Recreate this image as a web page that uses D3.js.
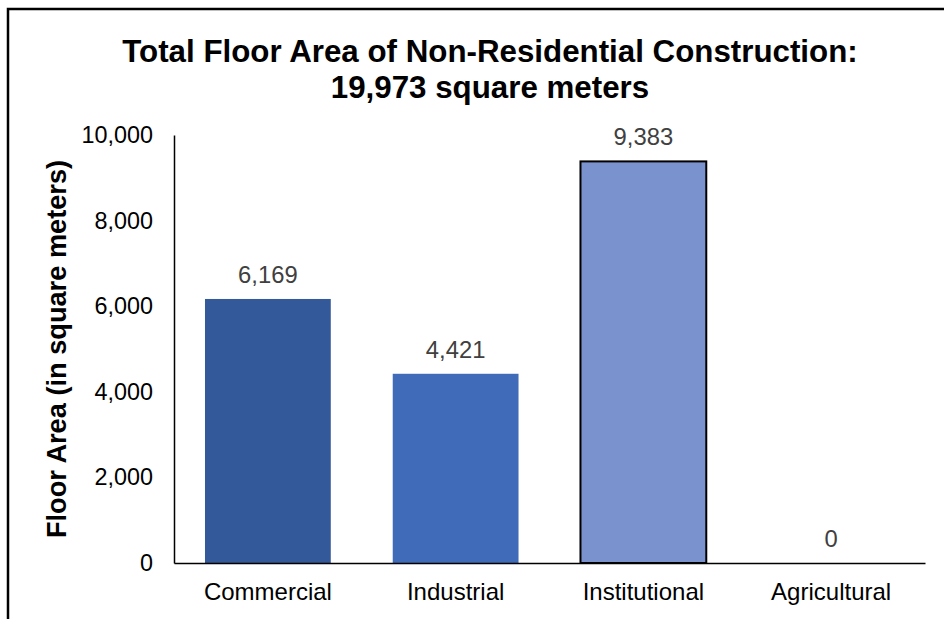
<!DOCTYPE html>
<html><head><meta charset="utf-8">
<script src="https://cdn.jsdelivr.net/npm/d3@7"></script>
<style>body{margin:0;background:#fff}svg{display:block}</style>
</head><body>
<svg id="c" width="944" height="619"></svg>
<script>
const categories = ["Commercial","Industrial","Institutional","Agricultural"];
const values = [6169, 4421, 9383, 0];
const barColors = ["#33599a","#3f6bb8","#7a93cf","#a9b9e0"];
const barStrokes = ["none","none","#000","none"];
const yTicks = [0,2000,4000,6000,8000,10000];
const titleLines = ["Total Floor Area of Non-Residential Construction:","19,973 square meters"];
const yTitle = "Floor Area (in square meters)";

const svg = d3.select("#c");
const font = "'Liberation Sans', Arial, sans-serif";
const m = {left:174, right:925, top:135, bottom:563};

// outer border
svg.append("rect").attr("x",8).attr("y",9).attr("width",1000).attr("height",1000)
  .attr("fill","none").attr("stroke","#000").attr("stroke-width",2.5);

const x = d3.scaleBand().domain(categories).range([m.left, m.right]).paddingInner(0.33).paddingOuter(0.165);
const y = d3.scaleLinear().domain([0,10000]).range([m.bottom, m.top]);

// title
svg.append("text").attr("x",490).attr("y",62).attr("text-anchor","middle")
  .attr("font-family",font).attr("font-weight","bold").attr("font-size",31.3).attr("fill","#000")
  .selectAll("tspan").data(titleLines).join("tspan")
  .attr("x",490).attr("dy",(d,i)=>i?36:0).text(d=>d);

// bars
svg.append("g").selectAll("rect").data(values).join("rect")
  .attr("x",(d,i)=>x(categories[i])).attr("width",x.bandwidth())
  .attr("y",d=>y(d)).attr("height",d=>y(0)-y(d))
  .attr("fill",(d,i)=>barColors[i])
  .attr("stroke",(d,i)=>barStrokes[i]).attr("stroke-width",2);

// data labels
svg.append("g").selectAll("text").data(values).join("text")
  .attr("x",(d,i)=>x(categories[i])+x.bandwidth()/2)
  .attr("y",d=>y(d)-16).attr("text-anchor","middle")
  .attr("font-family",font).attr("font-size",23.8).attr("fill","#404040")
  .text(d=>d3.format(",")(d));

// y axis
const yAxis = d3.axisLeft(y).tickValues(yTicks).tickSize(0).tickPadding(21).tickFormat(d3.format(","));
const gy = svg.append("g").attr("transform",`translate(${m.left},0)`).call(yAxis);
gy.select(".domain").attr("stroke","#000").attr("stroke-width",1.5);
gy.selectAll("text").attr("font-family",font).attr("font-size",23.4).attr("fill","#000");

// x axis
const xAxis = d3.axisBottom(x).tickSize(0).tickPadding(20);
const gx = svg.append("g").attr("transform",`translate(0,${m.bottom})`).call(xAxis);
gx.select(".domain").attr("stroke","#000").attr("stroke-width",1.5);
gx.selectAll("text").attr("font-family",font).attr("font-size",24).attr("fill","#000");

// y title
svg.append("text").attr("transform","translate(66,349) rotate(-90)").attr("text-anchor","middle")
  .attr("font-family",font).attr("font-weight","bold").attr("font-size",27.2).attr("fill","#000")
  .text(yTitle);
</script>
</body></html>
